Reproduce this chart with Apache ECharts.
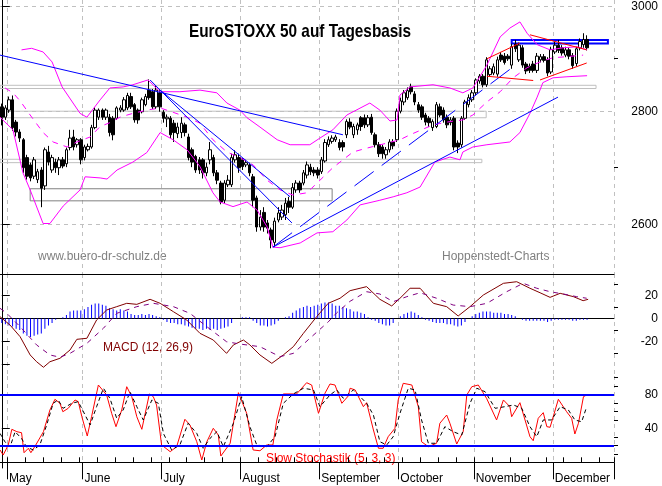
<!DOCTYPE html>
<html>
<head>
<meta charset="utf-8">
<script src="https://cdn.jsdelivr.net/npm/echarts@6.0.0/dist/echarts.min.js"></script>
<style>
html, body { margin: 0; padding: 0; background: #fff; }
#chart { width: 662px; height: 486px; }
</style>
</head>
<body>
<div id="chart"></div>
<script>
// trading days (Mon-Fri) shown on the axis
var firstDay = Date.UTC(2004, 3, 29);
var lastDay = Date.UTC(2004, 11, 23);
var monthNames = ['January', 'February', 'March', 'April', 'May', 'June', 'July',
    'August', 'September', 'October', 'November', 'December'];

// daily candles [open, close, low, high]
var candlesMay = [
    [2809,2790,2775,2815],[2790,2807,2785,2812],[2803,2822,2798,2828],[2822,2771,2765,2830],
    [2781,2763,2755,2785],[2763,2752,2745,2768],[2749,2699,2690,2752],[2717,2684,2678,2722],
    [2704,2681,2675,2708],[2684,2713,2679,2718],[2678,2692,2672,2697],[2695,2663,2630,2700],
    [2667,2731,2660,2735],[2727,2709,2703,2738],[2695,2717,2690,2722],[2709,2699,2690,2715],
    [2699,2713,2686,2718],[2713,2702,2698,2718],[2706,2731,2700,2735],[2735,2752,2730,2767],
    [2754,2736,2730,2767],[2740,2749,2735,2752],[2749,2713,2705,2752]
];
var candlesJun = [
    [2717,2736,2712,2740],[2731,2737,2728,2742],[2736,2771,2733,2776],[2771,2803,2768,2808],
    [2790,2803,2785,2806],[2803,2790,2785,2806],[2790,2803,2785,2806],[2790,2762,2755,2796],
    [2788,2758,2748,2792],[2788,2807,2785,2810],[2803,2807,2799,2812],[2803,2822,2800,2827],
    [2807,2830,2803,2835],[2828,2809,2805,2835],[2813,2785,2780,2816],[2803,2785,2778,2806],
    [2800,2822,2797,2826],[2813,2828,2810,2833],[2840,2826,2822,2860],[2837,2809,2805,2842],
    [2809,2840,2805,2848],[2835,2809,2800,2840]
];
var candlesJul = [
    [2799,2788,2780,2803],[2787,2790,2772,2795],[2788,2758,2752,2792],[2779,2762,2745,2785],
    [2760,2772,2752,2780],[2762,2779,2752,2790],[2776,2762,2755,2780],[2754,2717,2712,2760],
    [2731,2709,2700,2735],[2719,2695,2690,2722],[2713,2695,2688,2718],[2713,2690,2680,2716],
    [2690,2700,2684,2708],[2713,2731,2705,2745],[2717,2690,2684,2722],[2690,2677,2670,2695],
    [2672,2639,2635,2676],[2642,2672,2637,2677],[2669,2677,2665,2686],[2669,2717,2665,2724],
    [2713,2722,2708,2730],[2717,2699,2690,2724]
];
var candlesAug = [
    [2713,2701,2695,2716],[2704,2708,2700,2713],[2704,2690,2684,2708],[2683,2642,2630,2688],
    [2646,2596,2588,2650],[2596,2613,2590,2625],[2621,2596,2588,2630],[2603,2594,2585,2608],
    [2591,2574,2560,2595],[2570,2606,2562,2612],[2608,2620,2604,2630],[2613,2625,2608,2634],
    [2617,2637,2608,2646],[2640,2630,2620,2648],[2630,2664,2627,2672],[2660,2672,2655,2677],
    [2672,2660,2655,2676],[2672,2690,2668,2695],[2686,2704,2680,2710],[2700,2692,2686,2706],
    [2695,2690,2684,2700],[2695,2686,2680,2700]
];
var candlesSep = [
    [2692,2713,2688,2718],[2711,2744,2708,2750],[2740,2749,2736,2755],[2746,2752,2742,2757],
    [2749,2754,2745,2758],[2744,2735,2730,2750],[2744,2736,2728,2748],[2758,2782,2752,2786],
    [2781,2772,2768,2788],[2758,2773,2752,2778],[2767,2776,2758,2780],[2789,2773,2765,2792],
    [2789,2776,2770,2795],[2776,2789,2772,2794],[2790,2762,2758,2796],[2758,2740,2735,2762],
    [2740,2724,2718,2745],[2736,2724,2715,2740],[2722,2731,2715,2736],[2731,2745,2726,2750],
    [2745,2738,2732,2750],[2749,2801,2745,2806]
];
var candlesOct = [
    [2801,2820,2797,2826],[2818,2835,2812,2840],[2826,2839,2822,2845],[2846,2837,2832,2852],
    [2833,2818,2812,2838],[2813,2803,2798,2818],[2809,2790,2785,2813],[2794,2781,2775,2798],
    [2788,2780,2772,2792],[2771,2782,2765,2786],[2773,2813,2770,2818],[2809,2794,2790,2815],
    [2803,2785,2780,2808],[2790,2776,2770,2795],[2780,2785,2775,2790],[2788,2736,2730,2792],
    [2743,2736,2725,2748],[2740,2788,2735,2792],[2788,2818,2785,2822],[2813,2826,2808,2832],
    [2822,2835,2818,2840]
];
var candlesNov = [
    [2835,2859,2830,2862],[2857,2866,2852,2870],[2866,2850,2845,2870],[2850,2897,2846,2902],
    [2869,2880,2865,2885],[2872,2884,2868,2890],[2870,2897,2865,2903],[2906,2897,2893,2912],
    [2904,2892,2888,2910],[2904,2899,2895,2908],[2887,2922,2880,2928],[2927,2918,2912,2935],
    [2897,2925,2893,2930],[2920,2887,2882,2925],[2889,2876,2870,2893],[2885,2877,2872,2890],
    [2889,2877,2873,2895],[2877,2904,2872,2910],[2897,2903,2892,2908],[2903,2896,2892,2908],
    [2897,2872,2866,2902],[2874,2917,2870,2922]
];
var candlesDec = [
    [2912,2925,2908,2932],[2925,2915,2910,2935],[2920,2910,2905,2925],[2906,2916,2902,2922],
    [2916,2904,2898,2920],[2905,2886,2880,2910],[2890,2918,2885,2922],[2920,2932,2915,2938],
    [2926,2936,2920,2948],[2936,2920,2915,2944]
];

// Bollinger bands [day index, value]
var bbUpper = [[5.5,2916],[8.3,2919],[11.5,2912],[14.0,2893],[16.8,2846],[21.8,2797],[23.7,2790],
    [27.4,2822],[30.1,2844],[33.8,2846],[36.5,2850],[40.7,2859],[44.1,2837],[49.6,2837],[55.2,2840],
    [59.9,2835],[62.7,2816],[66.3,2803],[68.3,2789],[71.9,2772],[76.7,2749],[80.3,2740],[85.8,2740],
    [88.6,2752],[92.2,2767],[96.1,2794],[102.5,2816],[105.3,2803],[108.1,2783],[110.1,2785],
    [110.9,2831],[113.7,2846],[120.1,2850],[124.8,2844],[128.4,2835],[131.2,2844],[135.1,2887],
    [138.8,2941],[141.5,2958],[144.3,2970],[146.3,2948],[149.1,2926],[152.7,2916],[156.3,2920],
    [160.2,2922],[163.0,2916]];
var bbLower = [[-0.5,2790],[3.1,2767],[5.9,2690],[7.9,2660],[11.5,2602],[13.4,2602],[17.1,2632],
    [21.8,2660],[23.2,2683],[27.4,2681],[29.3,2679],[32.1,2695],[36.5,2709],[40.4,2726],[44.1,2762],
    [47.7,2749],[51.6,2731],[55.2,2701],[58.8,2655],[60.8,2639],[64.4,2631],[68.3,2639],[71.1,2625],
    [73.9,2596],[75.5,2562],[77.5,2561],[83.1,2569],[87.8,2586],[92.2,2588],[96.1,2608],[99.8,2634],
    [105.3,2642],[109.0,2648],[112.8,2655],[116.5,2665],[120.6,2709],[124.8,2718],[127.6,2713],
    [128.4,2727],[131.2,2736],[135.1,2740],[141.5,2745],[144.3,2762],[147.1,2797],[149.1,2827],
    [150.7,2854],[153.5,2863],[157.4,2865],[163.0,2867]];
var bbMid = [[0.9,2844],[3.1,2835],[5.1,2820],[7.9,2794],[11.5,2762],[14.3,2745],[18.2,2736],
    [20.9,2745],[24.6,2754],[27.4,2773],[30.1,2780],[32.9,2790],[36.5,2797],[40.4,2803],[44.1,2807],
    [47.7,2799],[51.6,2790],[55.2,2779],[58.8,2749],[62.7,2727],[66.3,2717],[70.0,2704],[73.9,2677],
    [77.5,2660],[81.1,2651],[85.0,2655],[92.2,2699],[97.8,2727],[101.7,2734],[107.3,2743],
    [110.9,2749],[113.7,2758],[120.1,2776],[124.8,2782],[128.4,2785],[131.2,2794],[135.1,2818],
    [138.8,2837],[142.4,2863],[146.3,2882],[149.9,2893],[153.5,2901],[157.4,2903],[161.9,2906]];

// drawn trend lines [day index, value]
var blueLong = [[-0.5,2906],[95.0,2758]];
var blueSteep1 = [[41.3,2859],[80.8,2603]];
var blueSteep2 = [[44.1,2840],[80.3,2648]];
var blueSupport = [[75.5,2562],[154.9,2827]];
var blueDashed = [[75.5,2562],[142.1,2882]];
var redUpperLeft = [[135.1,2899],[144.3,2929]];
var redTop = [[147.1,2945],[162.9,2916]];
var redBottomFlat = [[135.1,2866],[148.0,2858]];
var redBottomRise = [[149.9,2859],[162.9,2891]];

// zones [[x1, y1], [x2, y2]]
var zoneA = [[-0.5,2849],[165.5,2843]];
var zoneB = [[-0.5,2801],[134.9,2789]];
var zoneC = [[-0.5,2714],[133.7,2708]];
var zoneD = [[7.9,2662],[92.0,2641]];
var zoneTop = [[142.0,2935],[168.8,2928]];

// MACD histogram, one bar per day
var macdHist = [
    -4,-5,-6,-7,-9,-10,-13,-15,-16,-15,-14,-13,-9,-6,-4,-1,0,1,3,6,7,7,7,
    8,10,12,13,13,12,11,9,8,7,8,7,6,4,3,3,4,3,4,3,2,1,
    -1,-3,-4,-4,-5,-5,-6,-7,-8,-9,-9,-10,-9,-10,-9,-10,-9,-8,-7,-4,0,0,
    1,1,1,-2,-4,-6,-6,-7,-6,-5,-2,0,1,2,5,7,9,10,11,10,11,12,
    13,14,14,13,11,11,10,9,8,6,6,5,4,1,-1,-2,-4,-5,-6,-6,-4,0,
    2,4,5,6,5,3,1,-1,-2,-3,-4,-4,-4,-5,-5,-6,-7,-6,-3,0,2,
    4,5,6,6,6,5,5,5,4,4,3,2,0,-1,-2,-2,-2,-2,-2,-2,-3,-2,
    -1,-1,-1,-1,-1,-2,-2,-1,-1,-1
];
var macdLine = [[-0.5,1.6],[2.3,-5.7],[5.1,-15.8],[7.9,-31.7],[9.7,-37.6],[11.6,-42.4],[13.4,-37.6],
    [16.2,-34.6],[19.0,-27.4],[20.9,-18.1],[23.7,-17.2],[26.4,-1.3],[29.2,7.4],[32.0,10.3],[34.8,13.2],
    [37.6,12.3],[41.3,16.7],[44.1,13.2],[47.8,5.9],[51.5,-1.3],[55.2,-12.9],[58.9,-18.7],[62.6,-30.3],
    [64.5,-23],[67.3,-18.7],[69.1,-23],[71.9,-31.7],[75.2,-39],[78.4,-31.7],[81.2,-24.5],[84.0,-12.9],
    [87.7,1.6],[90.9,13.2],[94.2,17.6],[97.0,24.2],[101.6,27.7],[105.3,16.7],[108.6,10.9],[110.9,17.6],
    [113.7,26.3],[116.5,26.3],[120.2,13.2],[123.9,10.3],[127.1,2.2],[130.4,10.3],[134.1,20.4],
    [139.7,30.6],[143.4,32],[147.1,26.3],[149.9,22.4],[152.7,18.4],[155.5,21.9],[159.2,19],
    [161.9,15.5],[163.3,16.7]];
var macdSignal = [[-0.5,8.9],[1.4,4.5],[5.1,-7.1],[9.7,-23],[13.4,-31.7],[16.2,-33.7],[19.0,-30.3],
    [23.7,-21.6],[28.3,-8.5],[32.0,4.5],[37.6,10.3],[42.2,13.2],[47.8,10.3],[52.4,4.5],[57.1,-7.1],
    [62.6,-20.2],[66.3,-22.2],[71.9,-24.5],[77.5,-33.2],[81.2,-30.3],[85.8,-17.2],[90.9,-3],
    [93.3,5],[97.0,15],[101.6,23.3],[105.3,21.3],[109.0,14.6],[112.8,19],[116.5,22.4],[121.1,17.6],
    [125.7,11.7],[130.4,10.3],[135.1,13.2],[140.6,23.3],[145.2,30.6],[149.0,26.3],[152.7,23.3],
    [156.4,21.3],[160.1,19],[162.9,17.6]];

// Slow Stochastik %K and %D
var stochK = [[-0.5,14.5],[0.4,8.6],[1.8,20.4],[2.8,38.8],[4.2,36],[5.5,34.8],[6.2,11.3],[7.4,16.5],
    [8.1,11.3],[9.3,19.2],[11.6,36],[13.4,61.5],[14.8,74.1],[16.2,69.4],[17.0,59.5],[18.5,63.5],
    [20.4,73.3],[21.3,71.3],[22.3,53.6],[23.8,30.9],[25.0,53.6],[26.9,90.9],[29.2,79.2],[30.6,57.6],
    [31.8,41.9],[33.4,61.5],[34.8,88.9],[36.2,77.2],[37.6,53.6],[39.0,38.8],[41.1,80.4],[42.2,77.2],
    [43.1,67.4],[44.5,20.4],[46.9,12.5],[48.7,18.4],[51.0,50.6],[52.4,43.9],[54.3,24.2],[55.7,2.7],
    [57.1,24.2],[58.9,40],[60.3,32.1],[61.0,7.4],[63.6,22.4],[65.9,81.9],[68.2,57.6],[70.0,14.5],
    [71.9,13.6],[73.8,20.4],[75.5,20.4],[76.6,49.8],[78.4,80.4],[82.1,80.4],[84.9,93.6],[86.3,90.9],
    [88.2,57.6],[90.0,81.2],[91.4,92.1],[92.8,90.9],[94.7,69.4],[96.5,78],[97.0,87.1],[98.4,85.1],
    [100.7,65.4],[101.6,70.1],[103.5,38],[104.9,16.5],[106.2,16.5],[107.6,30.1],[109.5,40],
    [110.4,73.3],[111.8,92.9],[114.2,90.9],[116.0,65.4],[116.9,24.2],[118.8,18.4],[121.1,22.4],
    [122.0,45.9],[123.9,55.6],[124.8,45.9],[126.7,21.5],[128.5,36],[129.5,79.2],[130.9,88.9],
    [132.7,90.9],[135.0,75.3],[137.8,49.8],[139.7,73.3],[141.5,65.4],[142.0,53.6],[144.3,70.1],
    [147.1,30.1],[148.0,25.4],[149.4,51.8],[150.8,58.4],[151.8,41.9],[152.7,41.2],[155.0,74.1],
    [157.3,59.5],[158.7,51.8],[159.6,33.3],[160.6,45.9],[162.0,77.2],[162.9,79.2]];
var stochD = [[-0.5,34],[0.9,24],[2.3,18],[3.7,36],[5.5,28],[6.9,18],[8.8,14.5],[10.6,20.4],
    [12.5,43.9],[14.3,69.4],[15.7,73.3],[17.1,63.5],[19.5,69.4],[21.3,71.3],[23.2,55.6],[24.6,43.9],
    [26.4,65.4],[28.3,87.1],[30.1,75.3],[32.0,51.8],[33.8,61.5],[35.7,83],[37.6,65.4],[39.4,49.8],
    [41.8,73.3],[43.6,69.4],[45.0,34],[47.3,14.5],[49.6,20.4],[51.9,45.9],[54.3,34],[56.1,16.5],
    [58.0,28.2],[59.9,36],[61.7,18.4],[64.5,45.9],[66.8,77.2],[69.1,41.9],[71.0,20.4],[73.8,18.4],
    [76.1,30.1],[78.4,69.4],[81.2,80.4],[84.0,87.1],[86.8,85.1],[88.6,65.4],[91.4,79.2],[93.3,85.1],
    [95.1,75.3],[97.9,85.1],[99.8,77.2],[101.6,69.4],[103.5,55.6],[105.3,24.2],[107.2,20.4],
    [109.0,30.1],[110.9,57.6],[113.2,87.1],[115.1,85.1],[116.9,49.8],[118.8,22.4],[121.1,22.4],
    [123.4,41.9],[125.7,36],[128.1,32.1],[130.4,69.4],[132.3,87.1],[134.6,83],[137.4,63.5],
    [140.1,65.4],[142.5,67.4],[144.8,63.5],[147.1,41.9],[149.0,30.1],[150.8,49.8],[153.1,49.8],
    [155.5,65.4],[157.8,61.5],[159.6,49.8],[161.5,47.7],[162.9,65.4]];

var mainTicks = [2600, 2800, 3000];
var mainMinorTicks = [2700, 2900];
var macdTicks = [-40, -20, 0, 20];
var macdMinorTicks = [-30, -10, 10, 30];
var macdLabels = [-20, 0, 20];
var stochTicks = [0, 40, 80];
var stochMinorTicks = [10, 20, 30, 50, 60, 70, 90, 100];
var stochLabels = [40, 80];

var days = [];
var monthStart = [];
var monday = [];
(function () {
    var t = firstDay;
    var prevMonth = null;
    while (t <= lastDay) {
        var d = new Date(t);
        var wd = d.getUTCDay();
        if (wd > 0 && wd < 6) {
            days.push(d.toISOString().slice(0, 10));
            monthStart.push(prevMonth !== null && prevMonth !== d.getUTCMonth());
            monday.push(wd === 1);
            prevMonth = d.getUTCMonth();
        }
        t += 86400000;
    }
})();
var candles = [].concat(candlesMay, candlesJun, candlesJul, candlesAug,
    candlesSep, candlesOct, candlesNov, candlesDec);

var FONT = 'Arial, "Liberation Sans", sans-serif';
var xMax = days.length - 0.5;

var isMonthStart = function (index) { return monthStart[index]; };
var gridDash = { color: '#c0c0c0', type: [4, 4], width: 1 };

var catAxis = function (grid, extra) {
    var ax = {
        type: 'category', gridIndex: grid, data: days, boundaryGap: true,
        axisLine: { show: true, lineStyle: { color: '#000', width: 1 } },
        axisTick: { show: false },
        axisLabel: { show: false },
        splitLine: { show: true, interval: isMonthStart, lineStyle: gridDash }
    };
    for (var k in extra) ax[k] = extra[k];
    return ax;
};
var valAxisX = function (grid) {
    return { type: 'value', gridIndex: grid, min: -0.5, max: xMax, show: false };
};
var rightAxis = function (grid, type, min, max, ticks, tickLen, labels, split) {
    return {
        type: type, gridIndex: grid, position: 'right', min: min, max: max,
        axisLine: { show: labels !== null, lineStyle: { color: '#000', width: 1 } },
        axisTick: { show: true, length: tickLen, customValues: ticks, lineStyle: { color: '#000' } },
        axisLabel: labels === null ? { show: false } : {
            show: true, customValues: labels, color: '#000', fontSize: 12, fontFamily: FONT,
            align: 'right', margin: 44,
            formatter: function (v) { return String(Math.round(v)); }
        },
        splitLine: split ? { show: true, lineStyle: gridDash } : { show: false }
    };
};
var mkLine = function (data, xi, yi, color, type, width) {
    return {
        type: 'line', xAxisIndex: xi, yAxisIndex: yi, data: data, symbol: 'none',
        lineStyle: { color: color, type: type || 'solid', width: width || 1 },
        silent: true, z: 4
    };
};
var zone = function (z, color, width) {
    return [{ coord: z[0], itemStyle: { color: 'rgba(0,0,0,0)', borderColor: color, borderWidth: width } },
        { coord: z[1] }];
};

var chart = echarts.init(document.getElementById('chart'), null, { renderer: 'canvas' });
var option = {
    animation: false,
    backgroundColor: '#fff',
    grid: [
        { left: 0, right: 48, top: 0, height: 274, outerBoundsMode: 'none' },
        { left: 0, right: 48, top: 274, height: 102, outerBoundsMode: 'none' },
        { left: 0, right: 48, top: 376, height: 92, outerBoundsMode: 'none' }
    ],
    xAxis: [
        catAxis(0, {}),
        valAxisX(0),
        catAxis(1, {}),
        valAxisX(1),
        catAxis(2, {
            axisTick: { show: true, interval: isMonthStart, length: 17, lineStyle: { color: '#000' } },
            axisLabel: {
                show: true, interval: isMonthStart, align: 'left', margin: 5,
                color: '#000', fontSize: 12, fontFamily: FONT,
                formatter: function (v) { return monthNames[+v.slice(5, 7) - 1]; }
            }
        }),
        catAxis(2, {
            axisLine: { show: false },
            axisTick: { show: true, interval: function (i) { return monday[i]; }, length: 5, lineStyle: { color: '#000' } },
            splitLine: { show: false }
        }),
        valAxisX(2)
    ],
    yAxis: [
        rightAxis(0, 'log', 2517.2, 3013, mainTicks, 8, mainTicks, true),
        rightAxis(0, 'log', 2517.2, 3013, mainMinorTicks, 4, null, false),
        rightAxis(1, 'value', -50, 38.7, macdTicks, 8, macdLabels, false),
        rightAxis(1, 'value', -50, 38.7, macdMinorTicks, 4, null, false),
        rightAxis(2, 'value', -6.7, 101.5, stochTicks, 8, stochLabels, false),
        rightAxis(2, 'value', -6.7, 101.5, stochMinorTicks, 4, null, false)
    ],
    series: [
        {
            type: 'candlestick', xAxisIndex: 0, yAxisIndex: 0, data: candles, barWidth: 3,
            itemStyle: { color: '#fff', color0: '#000', borderColor: '#000', borderColor0: '#000', borderWidth: 1 },
            silent: true, z: 3
        },
        mkLine(bbUpper, 1, 0, '#ff00ff'),
        mkLine(bbLower, 1, 0, '#ff00ff'),
        (function () {
            var s = mkLine(bbMid, 1, 0, '#ff00ff', [6, 6]);
            s.markArea = {
                silent: true,
                data: [zone(zoneA, '#c0c0c0', 1), zone(zoneB, '#c0c0c0', 1), zone(zoneC, '#c0c0c0', 1),
                    zone(zoneD, '#808080', 1), zone(zoneTop, '#0000ff', 2)]
            };
            return s;
        })(),
        mkLine(blueLong, 1, 0, '#0000ff'),
        mkLine(blueSteep1, 1, 0, '#0000ff'),
        mkLine(blueSteep2, 1, 0, '#0000ff'),
        mkLine(blueSupport, 1, 0, '#0000ff'),
        mkLine(blueDashed, 1, 0, '#0000ff', [24, 10]),
        mkLine(redUpperLeft, 1, 0, '#ff0000'),
        mkLine(redTop, 1, 0, '#ff0000'),
        mkLine(redBottomFlat, 1, 0, '#ff0000'),
        mkLine(redBottomRise, 1, 0, '#ff0000'),
        {
            type: 'bar', xAxisIndex: 2, yAxisIndex: 2, data: macdHist, barWidth: 1,
            itemStyle: { color: '#0000ff' }, silent: true
        },
        mkLine(macdLine, 3, 2, '#800000'),
        mkLine(macdSignal, 3, 2, '#800080', [5, 5]),
        (function () {
            var s = mkLine(stochK, 6, 4, '#ff0000');
            s.markLine = {
                silent: true, symbol: 'none', label: { show: false },
                lineStyle: { color: '#0000ff', type: 'solid', width: 2 },
                data: [{ yAxis: 80 }, { yAxis: 20 }]
            };
            return s;
        })(),
        mkLine(stochD, 6, 4, '#000000', [4, 3])
    ],
    graphic: [
        { type: 'text', x: 189, y: 32, scaleX: 0.83, silent: true,
          style: { text: 'EuroSTOXX 50 auf Tagesbasis', fontSize: 18.5, fontWeight: 'bold', fontFamily: FONT,
                   fill: '#000', verticalAlign: 'middle' } },
        { type: 'text', x: 38, y: 257, silent: true,
          style: { text: 'www.buero-dr-schulz.de', fontSize: 12, fontFamily: FONT, fill: '#808080', verticalAlign: 'middle' } },
        { type: 'text', x: 442, y: 257, silent: true,
          style: { text: 'Hoppenstedt-Charts', fontSize: 12, fontFamily: FONT, fill: '#808080', verticalAlign: 'middle' } },
        { type: 'text', x: 103, y: 348, silent: true,
          style: { text: 'MACD (12, 26,9)', fontSize: 12, fontFamily: FONT, fill: '#800000', verticalAlign: 'middle' } },
        { type: 'text', x: 266, y: 459, silent: true,
          style: { text: 'Slow Stochastik (5, 3, 3)', fontSize: 12, fontFamily: FONT, fill: '#ff0000', verticalAlign: 'middle' } }
    ]
};
chart.setOption(option);
</script>
</body>
</html>
